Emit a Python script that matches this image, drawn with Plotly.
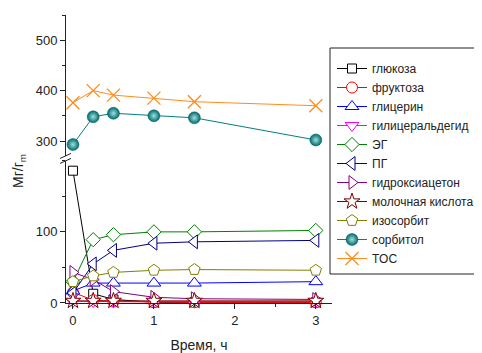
import plotly.graph_objects as go

# ---- data ----
time_h = [0, 0.25, 0.5, 1, 1.5, 3]
glucose = [186, 13, 5, 1, 1, 1]
fructose = [15, 4, 2, 1, 1, 1]
glycerin = [17, 28, 28, 28, 28, 30]
glyceraldehyde = [2, 2, 2, 2, 2, 2]
eg = [30, 89, 96, 100, 100, 102]
pg = [14, 55, 74, 84, 86, 88]
hydroxyacetone = [43, 33, 16, 8, 6, 5]
lactic_acid = [3, 3, 3, 3, 3, 3]
isosorbide = [30, 38, 43, 46, 47, 46]
sorbitol = [293, 348, 355, 350, 346, 302]
toc = [376, 400, 391, 385, 378, 370]

lower_ticks = [0, 100]
upper_ticks = [300, 400, 500]
x_ticks = [0, 1, 2, 3]

FONT = "Arial, Liberation Sans, sans-serif"
INK = "#222222"

lower_series = [
    ("глюкоза", glucose, "#000000", "square", 9),
    ("фруктоза", fructose, "#FF0000", "circle", 11),
    ("глицерин", glycerin, "#0000FF", "triangle-up", 12),
    ("гилицеральдегид", glyceraldehyde, "#FF00FF", "triangle-down", 12),
    ("ЭГ", eg, "#008000", "diamond", 11),
    ("ПГ", pg, "#000080", "triangle-left", 12),
    ("гидроксиацетон", hydroxyacetone, "#800080", "triangle-right", 12),
    ("молочная кислота", lactic_acid, "#800000", "star", 12),
    ("изосорбит", isosorbide, "#808000", "pentagon", 12),
]

fig = go.Figure()
for name, vals, col, sym, sz in lower_series:
    fig.add_trace(go.Scatter(
        x=time_h, y=vals, name=name, mode="lines+markers",
        line=dict(color=col, width=1),
        marker=dict(symbol=sym, size=sz, color="white",
                    line=dict(color=col, width=1)),
        cliponaxis=False, xaxis="x", yaxis="y"))

fig.add_trace(go.Scatter(
    x=time_h, y=sorbitol, name="сорбитол", mode="lines+markers",
    line=dict(color="#008080", width=1),
    marker=dict(symbol="circle", size=12, color="#006B6B",
                gradient=dict(type="radial", color="#9FE0E0"),
                line=dict(color="#005A5A", width=0.5)),
    cliponaxis=False, xaxis="x", yaxis="y2"))

fig.add_trace(go.Scatter(
    x=time_h, y=toc, name="TOC", mode="lines+markers",
    line=dict(color="#FF8C1A", width=1),
    marker=dict(symbol="x-thin", size=13,
                line=dict(color="#FF8C1A", width=1.3)),
    cliponaxis=False, xaxis="x", yaxis="y2"))

axis_common = dict(
    showline=True, linecolor=INK, linewidth=1,
    ticks="outside", ticklen=5, tickwidth=1, tickcolor=INK,
    showgrid=False, zeroline=False,
    tickfont=dict(family=FONT, size=13, color=INK),
)

# page body has an 8px margin: figure is 474x345 placed at (8, 8)
fig.update_layout(
    width=474, height=345,
    margin=dict(l=58, r=150, t=7, b=50, autoexpand=False),
    paper_bgcolor="white", plot_bgcolor="white",
    font=dict(family=FONT, size=12, color=INK),
    xaxis=dict(range=[-0.086, 3.2], tickvals=x_ticks, anchor="y",
               minor=dict(dtick=0.5, ticks="outside", ticklen=3, tickcolor=INK),
               title=dict(text="Время, ч", font=dict(family=FONT, size=14, color=INK),
                          standoff=14),
               **axis_common),
    yaxis=dict(domain=[0, 0.494], range=[0, 200], tickvals=lower_ticks, anchor="x",
               minor=dict(dtick=50, ticks="outside", ticklen=3, tickcolor=INK),
               **axis_common),
    yaxis2=dict(domain=[0.51, 1], range=[270, 550], tickvals=upper_ticks, anchor="x",
                minor=dict(dtick=50, ticks="outside", ticklen=3, tickcolor=INK),
                **axis_common),
    legend=dict(x=1.0, xanchor="left", y=(303 - 54) / 288, yanchor="top",
                borderwidth=0, bgcolor="rgba(0,0,0,0)",
                font=dict(family=FONT, size=12, color=INK),
                tracegroupgap=0),
    showlegend=True,
)

# legend frame (decoration)
fig.add_shape(type="rect", xref="paper", yref="paper",
              xsizemode="pixel", ysizemode="pixel", xanchor=1, yanchor=0,
              x0=-2, x1=200, y0=303 - 274, y1=303 - 48,
              line=dict(color=INK, width=1), fillcolor="rgba(0,0,0,0)", layer="below")

# y axis title
fig.add_annotation(
    text="Мг/г<sub>m</sub>", textangle=-90, showarrow=False,
    xref="paper", yref="paper", x=0, y=0.5, xanchor="center", yanchor="middle",
    xshift=-47, yshift=-12,
    font=dict(family=FONT, size=14, color=INK))

# axis break marks
for y0 in (2, -3):
    fig.add_shape(type="line", xref="paper", yref="paper",
                  xsizemode="pixel", ysizemode="pixel",
                  xanchor=0, yanchor=0.502,
                  x0=-6, x1=5, y0=y0 - 2, y1=y0 + 3,
                  line=dict(color=INK, width=1))

fig.write_html("out.html")
